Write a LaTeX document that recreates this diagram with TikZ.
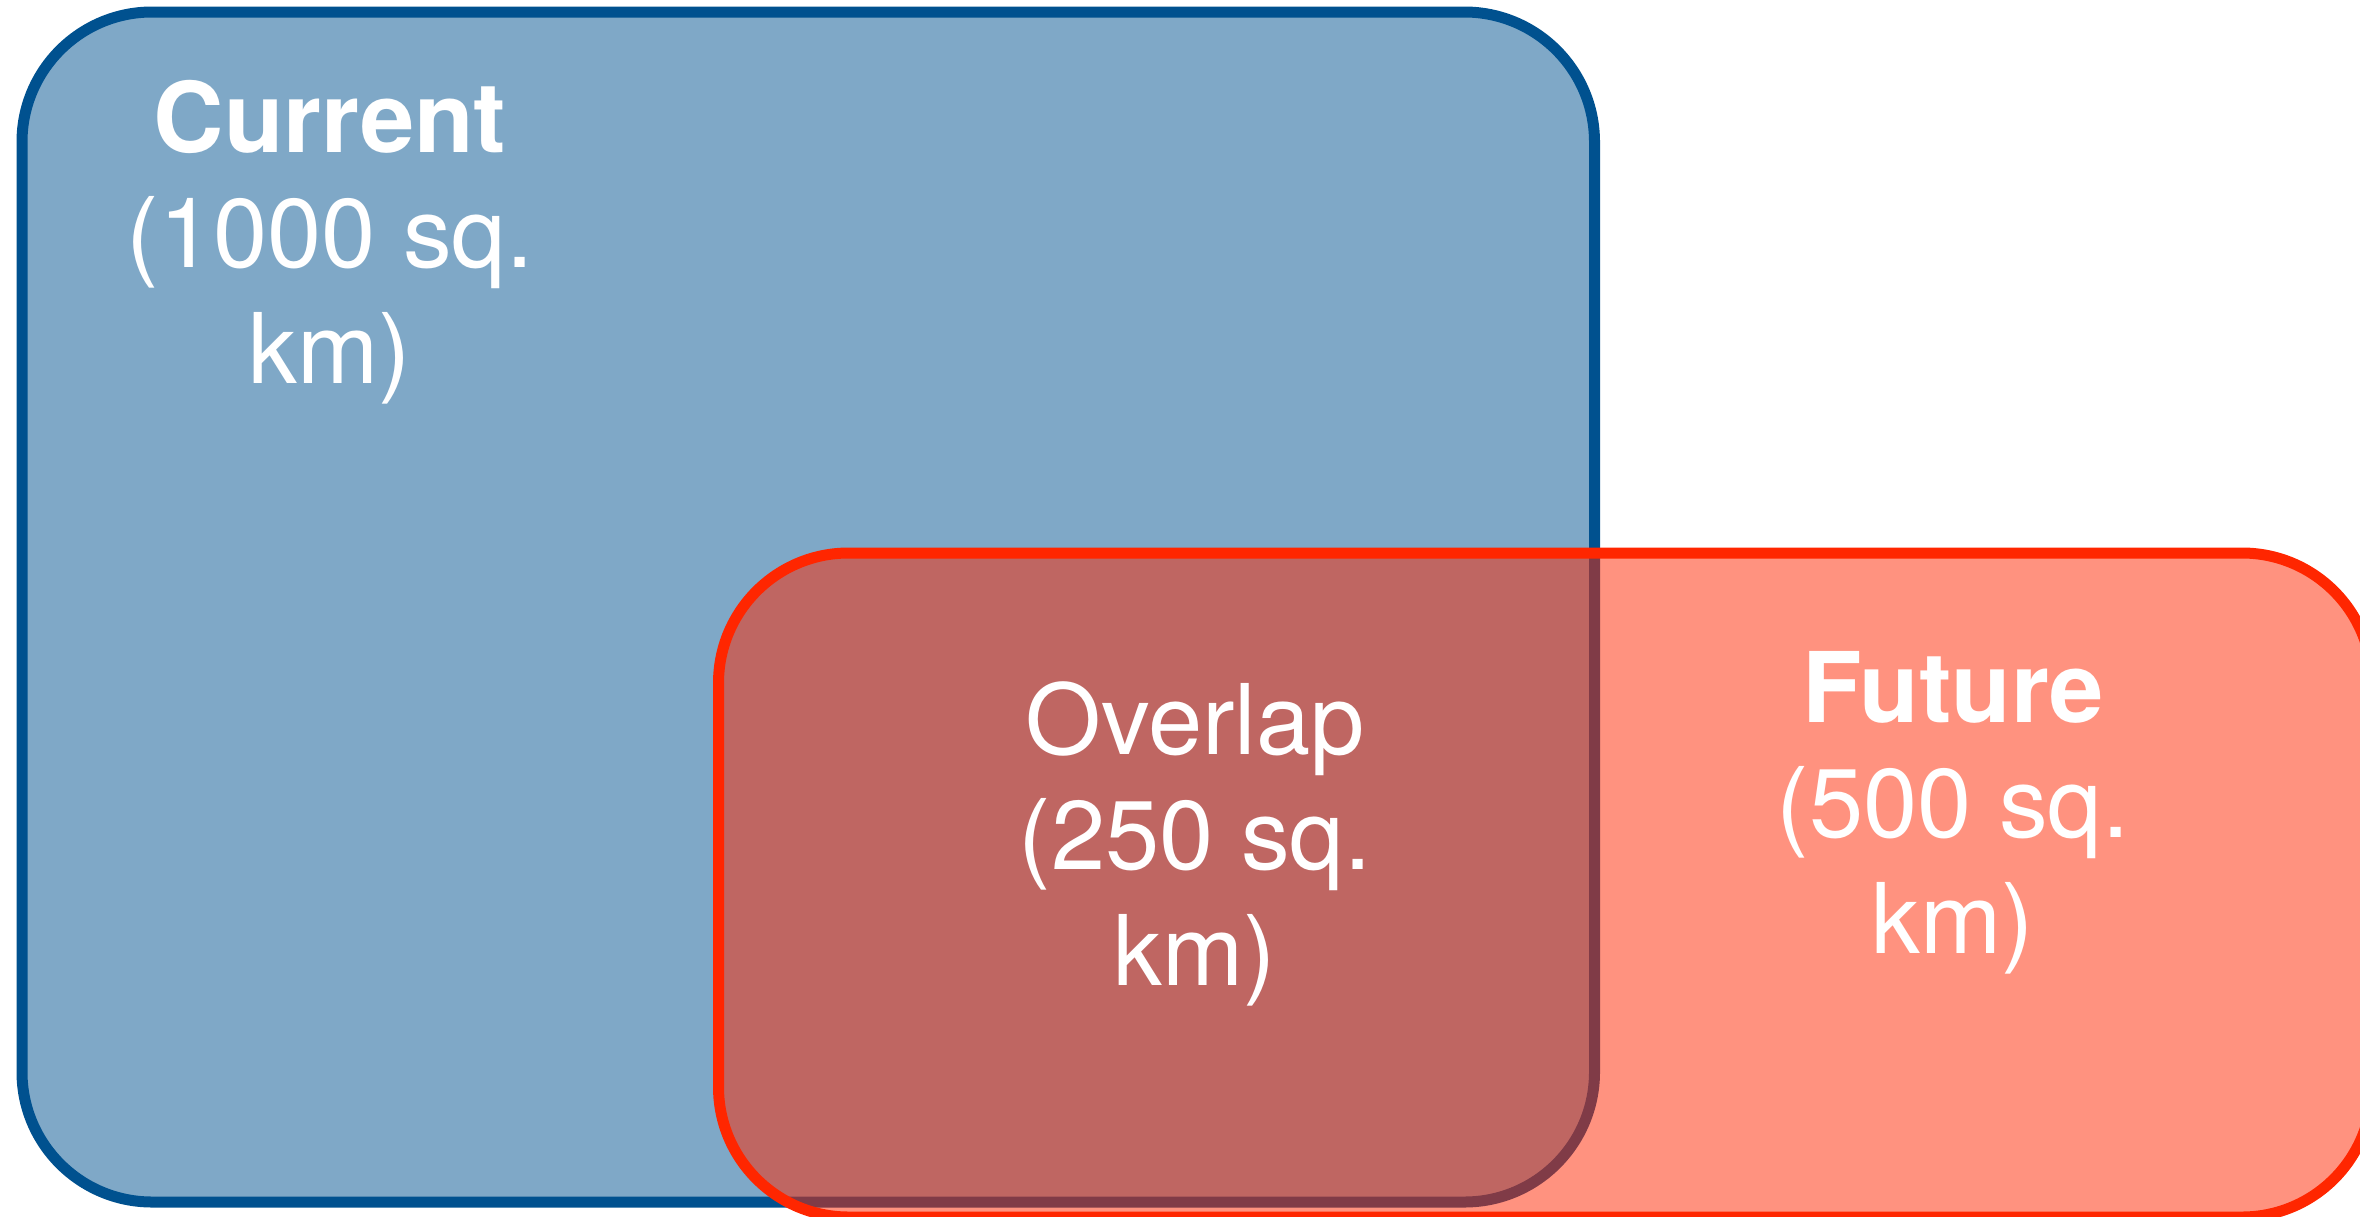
\documentclass[tikz,border=0pt]{standalone}
\usepackage{fontspec}
\setmainfont{TeX Gyre Heros}
\definecolor{curblue}{HTML}{00518F}
\definecolor{futred}{HTML}{FF2600}
\begin{document}
\begin{tikzpicture}[x=0.5pt,y=-0.5pt,
  area/.style={line width=5.5pt, rounded corners=65pt, fill opacity=0.5},
  lbl/.style={text=white, align=center, inner sep=0pt, anchor=base,
    font=\fontsize{48.75pt}{57.75pt}\selectfont}]
\useasboundingbox (0,0) rectangle (2360,1216);
\clip (0,0) rectangle (2360,1216);
\draw[area, draw=curblue, fill=curblue] (22,12) rectangle (1594.5,1202);
\draw[area, draw=futred, fill=futred, draw opacity=1] (718.5,553) rectangle (2372,1217);
\node[lbl] (current) at (330,383) {\textbf{Current}\\(1000 sq.\\km)};
\node[lbl] (overlap) at (1195,985) {Overlap\\(250 sq.\\km)};
\node[lbl] (future) at (1953,953) {\textbf{Future}\\(500 sq.\\km)};
\end{tikzpicture}
\end{document}
